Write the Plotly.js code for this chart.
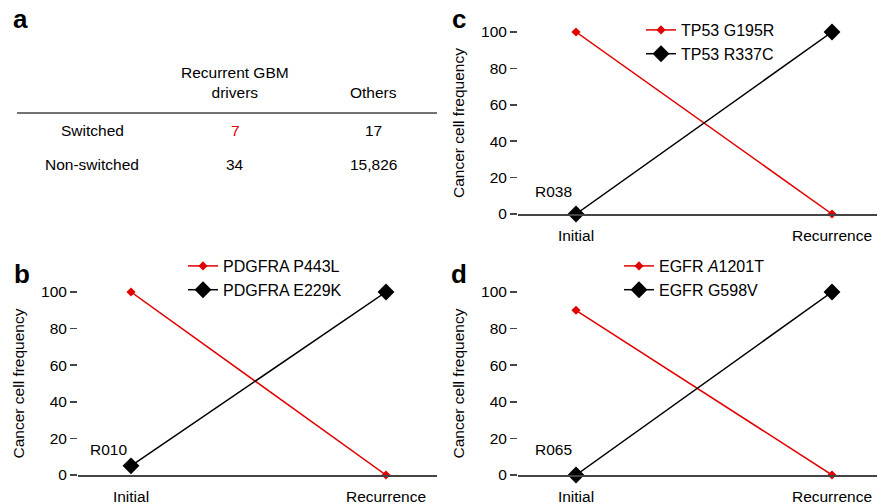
<!DOCTYPE html>
<html><head><meta charset="utf-8">
<script src="https://cdn.plot.ly/plotly-3.0.1.min.js"></script>
<style>html,body{margin:0;padding:0;background:#fff}#chart{width:885px;height:504px}</style>
</head><body><div id="chart"></div>
<script>
// ---- data ----
const stages = ["Initial", "Recurrence"];
const tableColumns = ["Recurrent GBM<br>drivers", "Others"];
const tableRows = ["Switched", "Non-switched"];
const tableDrivers = ["7", "34"];
const tableOthers = ["17", "15,826"];

const bNames = ["PDGFRA P443L", "PDGFRA E229K"];
const bRed = [100, 0];
const bBlack = [5, 100];
const bSample = "R010";

const cNames = ["TP53 G195R", "TP53 R337C"];
const cRed = [100, 0];
const cBlack = [0, 100];
const cSample = "R038";

const dNames = ["EGFR <i>A</i>1201T", "EGFR G598V"];
const dRed = [90, 0];
const dBlack = [0, 100];
const dSample = "R065";

// ---- helpers ----
const W = 885, H = 504;
const px = x => x / W;
const py = y => 1 - y / H;
const FONT = "Liberation Sans, Arial, sans-serif";
const RED = "#e00000";
const FS = 15.5;

function pair(names, red, black, xa, ya, leg) {
  return [
    {x: stages, y: red, name: names[0], xaxis: xa, yaxis: ya, legend: leg,
     mode: "lines+markers", cliponaxis: false,
     line: {color: RED, width: 1.5},
     marker: {symbol: "diamond", size: 7, color: RED}},
    {x: stages, y: black, name: names[1], xaxis: xa, yaxis: ya, legend: leg,
     mode: "lines+markers", cliponaxis: false,
     line: {color: "#000", width: 1.5},
     marker: {symbol: "diamond", size: 13, color: "#000"}}
  ];
}

const traces = [
  ...pair(bNames, bRed, bBlack, "x", "y", "legend"),
  ...pair(cNames, cRed, cBlack, "x2", "y2", "legend2"),
  ...pair(dNames, dRed, dBlack, "x3", "y3", "legend3")
];

function xax(domain, range, anchor) {
  return {domain: domain, range: range, anchor: anchor, type: "category", showgrid: false, zeroline: false,
    showline: true, linecolor: "#444", linewidth: 1.5, ticks: "outside", ticklen: 7,
    tickcolor: "rgba(0,0,0,0)", fixedrange: true,
    tickfont: {family: FONT, size: FS, color: "#000"}};
}
function yax(domain, anchor) {
  return {domain: domain, range: [0, 100], anchor: anchor, showgrid: false, zeroline: false,
    showline: false, ticks: "outside", ticklen: 7, tickwidth: 1.5, tickcolor: "#444",
    tickvals: [0, 20, 40, 60, 80, 100], fixedrange: true,
    tickfont: {family: FONT, size: FS, color: "#000"},
    title: {text: "Cancer cell frequency", standoff: 12, font: {family: FONT, size: FS, color: "#000"}}};
}

const xRangeL = [(78 - 131) / 255, (437 - 131) / 255];
const xRangeR = [(518 - 576) / 256, (877 - 576) / 256];
const domL = [px(78), px(437)];
const domR = [px(518), px(877)];
const domTop = [py(214), py(32)];
const domBot = [py(475), py(292)];

function legend(x, y) {
  return {x: px(x), y: py(y), xanchor: "left", yanchor: "top", bgcolor: "rgba(0,0,0,0)",
    font: {family: FONT, size: 16, color: "#000"}, itemwidth: 30, tracegroupgap: 0,
    itemclick: false, itemdoubleclick: false};
}

const ann = [];
function txt(t, x, y, opts) {
  ann.push(Object.assign({text: t, x: px(x), y: py(y), xref: "paper", yref: "paper",
    showarrow: false, xanchor: "center", yanchor: "middle",
    font: {family: FONT, size: FS, color: "#000"}}, opts || {}));
}
// panel letters
const bold = {font: {family: FONT, size: 26, color: "#000", weight: "bold"}};
txt("<b>a</b>", 20, 19, bold);
txt("<b>c</b>", 459, 19, bold);
txt("<b>b</b>", 22, 274, bold);
txt("<b>d</b>", 459, 274, bold);
// table
const colX = [235, 373];
const rowY = [130, 165];
txt(tableColumns[0], colX[0], 83);
txt(tableColumns[1], colX[1], 92);
tableRows.forEach((r, i) => {
  txt(r, 92, rowY[i]);
  txt(tableDrivers[i], colX[0], rowY[i], i === 0 ? {font: {family: FONT, size: FS, color: RED}} : {});
  txt(tableOthers[i], colX[1], rowY[i]);
});
// sample labels
txt(bSample, 108, 449);
txt(cSample, 553, 191);
txt(dSample, 553, 449);

const layout = {
  width: W, height: H, margin: {l: 0, r: 0, t: 0, b: 0},
  paper_bgcolor: "#fff", plot_bgcolor: "rgba(0,0,0,0)",
  font: {family: FONT, color: "#000"},
  showlegend: true,
  xaxis: xax(domL, xRangeL, "y"), yaxis: yax(domBot, "x"),
  xaxis2: xax(domR, xRangeR, "y2"), yaxis2: yax(domTop, "x2"),
  xaxis3: xax(domR, xRangeR, "y3"), yaxis3: yax(domBot, "x3"),
  legend: legend(183, 249),
  legend2: legend(641, 13),
  legend3: legend(619, 249),
  annotations: ann,
  shapes: [{type: "line", xref: "paper", yref: "paper", x0: px(17), x1: px(437), y0: py(113), y1: py(113),
    line: {color: "#444", width: 1.5}}]
};

Plotly.newPlot("chart", traces, layout, {displayModeBar: false, staticPlot: true});
</script></body></html>
